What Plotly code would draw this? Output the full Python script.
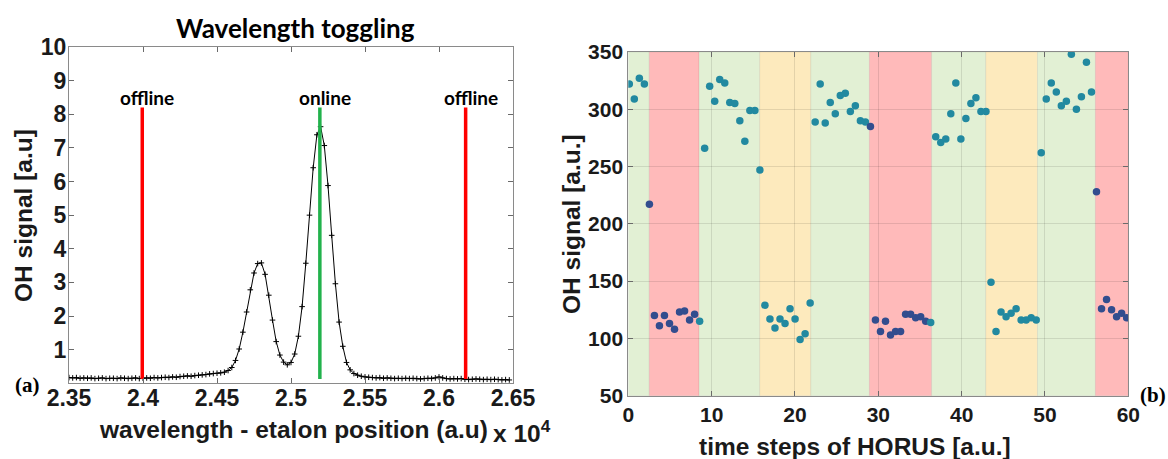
import numpy as np
import plotly.graph_objects as go

# ---------------- Panel (a): wavelength toggling ----------------
wl_start = 23500          # etalon position of first sample (a.u.)
wl_step = 25              # etalon step between samples
oh_scan = [
    0.17, 0.16, 0.17, 0.15, 0.16, 0.15, 0.16, 0.14, 0.15, 0.16,
    0.14, 0.15, 0.15, 0.14, 0.16, 0.15, 0.14, 0.15, 0.16, 0.14,
    0.15, 0.16, 0.15, 0.17, 0.16, 0.17, 0.18, 0.17, 0.19, 0.18,
    0.20, 0.21, 0.22, 0.21, 0.23, 0.24, 0.25, 0.26, 0.28, 0.29,
    0.30, 0.31, 0.33, 0.38, 0.47, 0.68, 1.02, 1.52, 2.12, 2.78,
    3.28, 3.56, 3.58, 3.24, 2.62, 1.88, 1.24, 0.84, 0.63, 0.55,
    0.62, 0.87, 1.40, 2.28, 3.57, 5.00, 6.41, 7.39, 7.63, 7.07,
    5.88, 4.40, 2.96, 1.82, 1.10, 0.62, 0.40, 0.29, 0.24, 0.21,
    0.19, 0.18, 0.17, 0.16, 0.17, 0.15, 0.16, 0.15, 0.14, 0.15,
    0.14, 0.15, 0.14, 0.15, 0.14, 0.13, 0.14, 0.15, 0.14, 0.16,
    0.19, 0.16, 0.14, 0.13, 0.14, 0.13, 0.14, 0.12, 0.11, 0.12,
    0.13, 0.12, 0.11, 0.12, 0.11, 0.12, 0.11, 0.10, 0.11, 0.10,
]
wl_positions = wl_start + wl_step * np.arange(len(oh_scan))

marker_names = ["offline", "online", "offline"]
marker_pos = [23995, 25195, 26180]
marker_colors = ["#ff0000", "#22b24c", "#ff0000"]
marker_low, marker_high = 0.13, 8.2

a_xticks = [23500, 24000, 24500, 25000, 25500, 26000, 26500]
a_xticktext = ["2.35", "2.4", "2.45", "2.5", "2.55", "2.6", "2.65"]
a_yticks = [1, 2, 3, 4, 5, 6, 7, 8, 9, 10]

# ---------------- Panel (b): HORUS time series ----------------
horus_signal = [
    322, 309, 327, 322, 217,
    120, 111, 120, 113, 108, 123, 124, 116, 121, 115,
    266, 320, 307, 326, 323, 306, 305, 290, 272, 299, 299, 247,
    129, 117, 109, 117, 113, 126, 117, 99, 104, 131,
    289, 322, 288, 306, 296, 312, 314, 298, 303, 290, 289, 285,
    116, 106, 115, 103, 106, 106, 121, 121, 118, 119, 115, 114,
    276, 271, 274, 296, 323, 274, 292, 305, 310, 298, 298,
    149, 106, 123, 119, 122, 126, 116, 116, 118, 116,
    262, 309, 323, 315, 303, 307, 348, 300, 311, 341, 315, 228,
    126, 134, 125, 119, 122, 118,
]
horus_time = np.linspace(0.12, 59.8, len(horus_signal))
offline_ranges = [(4, 13), (48, 59), (93, 99)]   # sample index ranges in offline state

band_start = [0, 2.52, 8.49, 15.77, 21.9, 28.93, 36.4, 42.9, 49.1, 56.05]
band_end = [2.52, 8.49, 15.77, 21.9, 28.93, 36.4, 42.9, 49.1, 56.05, 60]
band_kind = ["on", "off", "on", "mid", "on", "off", "on", "mid", "on", "off"]
band_fill = {"on": "#e2f0d4", "off": "#ffbaba", "mid": "#fdeabd"}

b_xticks = [0, 10, 20, 30, 40, 50, 60]
b_yticks = [50, 100, 150, 200, 250, 300, 350]

W, H = 1168, 459


def px(x):
    return x / W


def py(y):
    return 1 - y / H


fig = go.Figure()

# curve
fig.add_trace(go.Scatter(
    x=wl_positions, y=oh_scan, mode="lines+markers",
    line=dict(color="black", width=1),
    marker=dict(symbol="cross-thin", size=4, line=dict(color="black", width=1)),
    xaxis="x", yaxis="y", showlegend=False))

for name, pos, col in zip(marker_names, marker_pos, marker_colors):
    fig.add_trace(go.Scatter(
        x=[pos, pos], y=[marker_low, marker_high], mode="lines",
        line=dict(color=col, width=3.5), xaxis="x", yaxis="y", showlegend=False))
    fig.add_annotation(x=pos, y=marker_high, xref="x", yref="y", text=name,
                       showarrow=False, yanchor="bottom", xshift=5, yshift=-3,
                       font=dict(family="Lato", size=19, color="black", weight="bold"))

# time series points
is_off = np.zeros(len(horus_signal), dtype=bool)
for a, b in offline_ranges:
    is_off[a:b + 1] = True
point_colors = np.where(is_off, "#324d8e", "#2289a0")
fig.add_trace(go.Scatter(
    x=horus_time, y=horus_signal, mode="markers",
    marker=dict(color=point_colors, size=7.5),
    xaxis="x2", yaxis="y2", showlegend=False))

for s, e, k in zip(band_start, band_end, band_kind):
    fig.add_shape(type="rect", xref="x2", yref="y2 domain", x0=s, x1=e, y0=0, y1=1,
                  fillcolor=band_fill[k], line=dict(color="rgba(0,0,0,0.06)", width=1),
                  layer="below")

tickfont = dict(family="Liberation Sans", size=23, color="#1a1a1a", weight="bold")
tickfont_b = dict(family="Liberation Sans", size=21, color="#1a1a1a", weight="bold")
axis_common = dict(showline=True, mirror="ticks", linecolor="#8a8a8a", linewidth=1,
                   ticks="inside", ticklen=5, tickcolor="#6a6a6a", zeroline=False,
                   automargin=False)

fig.update_layout(
    template="none",
    width=W, height=H, margin=dict(l=0, r=0, t=0, b=0, pad=0), autosize=False,
    paper_bgcolor="white", plot_bgcolor="white",
    xaxis=dict(domain=[px(69), px(513)], range=[23500, 26500], anchor="y",
               tickvals=a_xticks, ticktext=a_xticktext, tickfont=tickfont,
               showgrid=False, ticklabelstandoff=-6, **axis_common),
    yaxis=dict(domain=[py(383.3), py(47)], range=[0, 10], anchor="x",
               tickvals=a_yticks, tickfont=tickfont, showgrid=False,
               ticklabelstandoff=-3, **axis_common),
    xaxis2=dict(domain=[px(628.3), px(1128.3)], range=[0, 60], anchor="y2",
                tickvals=b_xticks, tickfont=tickfont_b, showgrid=True,
                gridcolor="rgba(0,0,0,0.10)", **axis_common),
    yaxis2=dict(domain=[py(395.7), py(52)], range=[50, 350], anchor="x2",
                tickvals=b_yticks, tickfont=tickfont_b, showgrid=True,
                gridcolor="rgba(0,0,0,0.10)", **axis_common),
)

title_font = dict(family="Liberation Sans", size=24.5, color="#1a1a1a", weight="bold")
anns = [
    dict(x=px(295), y=py(28), text="Wavelength toggling",
         font=dict(family="Lato", size=26, color="black", weight="bold")),
    dict(x=px(293), y=py(429), text="wavelength - etalon position (a.u)", font=title_font),
    dict(x=px(491), y=py(431), text="x 10<sup>4</sup>", font=title_font, xanchor="left"),
    dict(x=px(23), y=py(216), text="OH signal [a.u]", font=title_font, textangle=-90),
    dict(x=px(571), y=py(224), text="OH signal [a.u.]", font=title_font, textangle=-90),
    dict(x=px(855), y=py(446), text="time steps of HORUS [a.u.]", font=title_font),
    dict(x=px(27), y=py(385), text="(a)",
         font=dict(family="Liberation Serif", size=21, color="black", weight="bold")),
    dict(x=px(1153), y=py(395), text="(b)",
         font=dict(family="Liberation Serif", size=21, color="black", weight="bold")),
]
for a in anns:
    a.setdefault("xanchor", "center")
    fig.add_annotation(xref="paper", yref="paper", showarrow=False, yanchor="middle", **a)

fig.write_html("out.html")
